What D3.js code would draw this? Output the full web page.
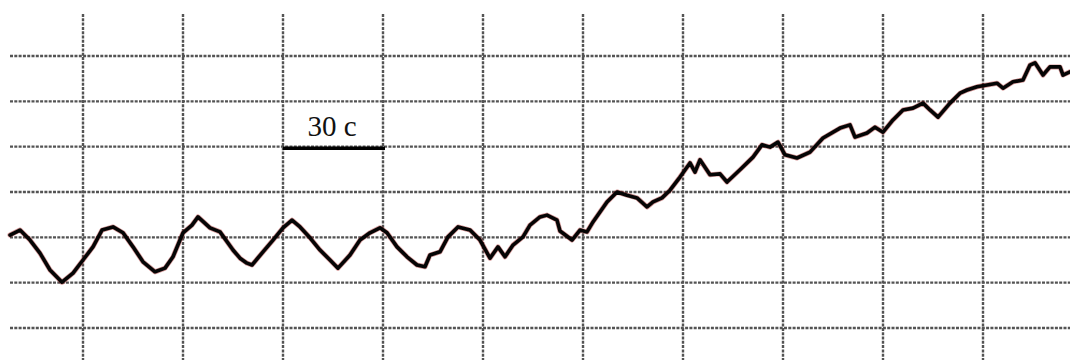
<!DOCTYPE html>
<html>
<head>
<meta charset="utf-8">
<script src="https://cdn.jsdelivr.net/npm/d3@7"></script>
<style>
  html, body { margin: 0; padding: 0; background: #fff; }
  svg { display: block; }
</style>
</head>
<body>
<script>
// ---- data ----
const timeSec = [8.1, 11.1, 14.1, 17.1, 20.1, 23.7, 27.0, 30.0, 33.0, 35.7, 39.0, 42.0, 45.0, 48.0, 51.6, 54.6, 57.0, 60.0, 62.7, 64.5, 68.1, 71.1, 75.0, 77.1, 79.2, 80.7, 84.0, 87.0, 90.0, 92.7, 95.1, 98.1, 101.1, 104.1, 106.5, 110.1, 113.1, 116.1, 119.1, 121.2, 124.2, 127.2, 130.2, 132.6, 134.1, 137.1, 139.5, 142.5, 146.1, 149.1, 152.1, 154.5, 156.6, 159.0, 162.0, 164.1, 167.1, 169.2, 172.2, 173.1, 176.7, 179.1, 181.2, 183.0, 187.2, 190.2, 193.2, 196.2, 199.2, 201.0, 203.7, 206.1, 209.1, 212.1, 213.6, 215.1, 218.1, 221.1, 223.2, 227.1, 231.0, 233.7, 236.1, 238.5, 240.6, 244.2, 248.1, 252.0, 257.1, 260.1, 261.6, 265.2, 267.6, 270.0, 273.0, 276.0, 279.0, 282.0, 284.1, 286.5, 290.1, 293.1, 295.2, 298.2, 301.2, 304.2, 306.0, 309.0, 312.0, 314.1, 315.6, 318.0, 320.1, 323.1, 324.0, 326.1];
const signal = [2.05, 2.16, 1.94, 1.65, 1.28, 1.01, 1.21, 1.50, 1.79, 2.16, 2.23, 2.10, 1.79, 1.46, 1.24, 1.32, 1.57, 2.10, 2.27, 2.45, 2.21, 2.12, 1.72, 1.54, 1.43, 1.39, 1.68, 1.94, 2.21, 2.38, 2.23, 1.99, 1.72, 1.50, 1.32, 1.61, 1.94, 2.10, 2.21, 2.10, 1.79, 1.57, 1.39, 1.35, 1.61, 1.68, 2.01, 2.23, 2.16, 1.94, 1.54, 1.79, 1.57, 1.83, 2.01, 2.27, 2.45, 2.49, 2.38, 2.14, 1.94, 2.16, 2.12, 2.34, 2.78, 3.00, 2.93, 2.87, 2.67, 2.78, 2.87, 3.04, 3.33, 3.64, 3.44, 3.71, 3.38, 3.40, 3.22, 3.49, 3.77, 4.04, 3.99, 4.10, 3.82, 3.75, 3.88, 4.19, 4.41, 4.48, 4.21, 4.30, 4.43, 4.32, 4.59, 4.81, 4.85, 4.96, 4.81, 4.65, 4.96, 5.18, 5.25, 5.32, 5.36, 5.40, 5.29, 5.43, 5.47, 5.80, 5.85, 5.58, 5.76, 5.76, 5.58, 5.65];
const timeGrid = [30, 60, 90, 120, 150, 180, 210, 240, 270, 300];
const levelGrid = [0, 1, 2, 3, 4, 5, 6];
const scaleBarStart = 90;
const scaleBarEnd = 120;
const scaleBarLevel = 4;
const scaleBarLabel = "30 c";

// ---- layout ----
const W = 1070, H = 360;
const x = d3.scaleLinear().domain([30, 300]).range([83, 983]);
const y = d3.scaleLinear().domain([0, 6]).range([328, 56]);

const svg = d3.select("body").append("svg").attr("width", W).attr("height", H);
svg.append("rect").attr("width", W).attr("height", H).attr("fill", "#fff");

const grid = svg.append("g")
  .attr("stroke", "#2a2a2a")
  .attr("stroke-width", 2.4)
  .attr("stroke-dasharray", "3,1.3")
  .attr("opacity", 0.8);

grid.selectAll("line.h").data(levelGrid).join("line")
  .attr("class", "h")
  .attr("x1", x(8.1)).attr("x2", W)
  .attr("y1", d => y(d)).attr("y2", d => y(d));

grid.selectAll("line.v").data(timeGrid).join("line")
  .attr("class", "v")
  .attr("x1", d => x(d)).attr("x2", d => x(d))
  .attr("y1", 14).attr("y2", H);

// scale bar
svg.append("line")
  .attr("x1", x(scaleBarStart)).attr("x2", x(scaleBarEnd) + 2)
  .attr("y1", y(scaleBarLevel) + 1.6).attr("y2", y(scaleBarLevel) + 1.6)
  .attr("stroke", "#000").attr("stroke-width", 3.6);

svg.append("text")
  .attr("x", x((scaleBarStart + scaleBarEnd) / 2) - 1)
  .attr("y", y(scaleBarLevel) - 10.5)
  .attr("text-anchor", "middle")
  .attr("font-family", "'Liberation Serif', 'Times New Roman', serif")
  .attr("font-size", 29)
  .attr("fill", "#111")
  .text(scaleBarLabel);

// trace
const pts = timeSec.map((t, i) => [t, signal[i]]);
const line = d3.line().x(d => x(d[0])).y(d => y(d[1])).curve(d3.curveLinear);

svg.append("path").datum(pts)
  .attr("d", line)
  .attr("fill", "none")
  .attr("stroke", "#a01818")
  .attr("stroke-width", 5)
  .attr("stroke-linejoin", "round")
  .attr("stroke-linecap", "round")
  .attr("opacity", 0.45);

svg.append("path").datum(pts)
  .attr("d", line)
  .attr("fill", "none")
  .attr("stroke", "#050505")
  .attr("stroke-width", 3.6)
  .attr("stroke-linejoin", "round")
  .attr("stroke-linecap", "round");
</script>
</body>
</html>
